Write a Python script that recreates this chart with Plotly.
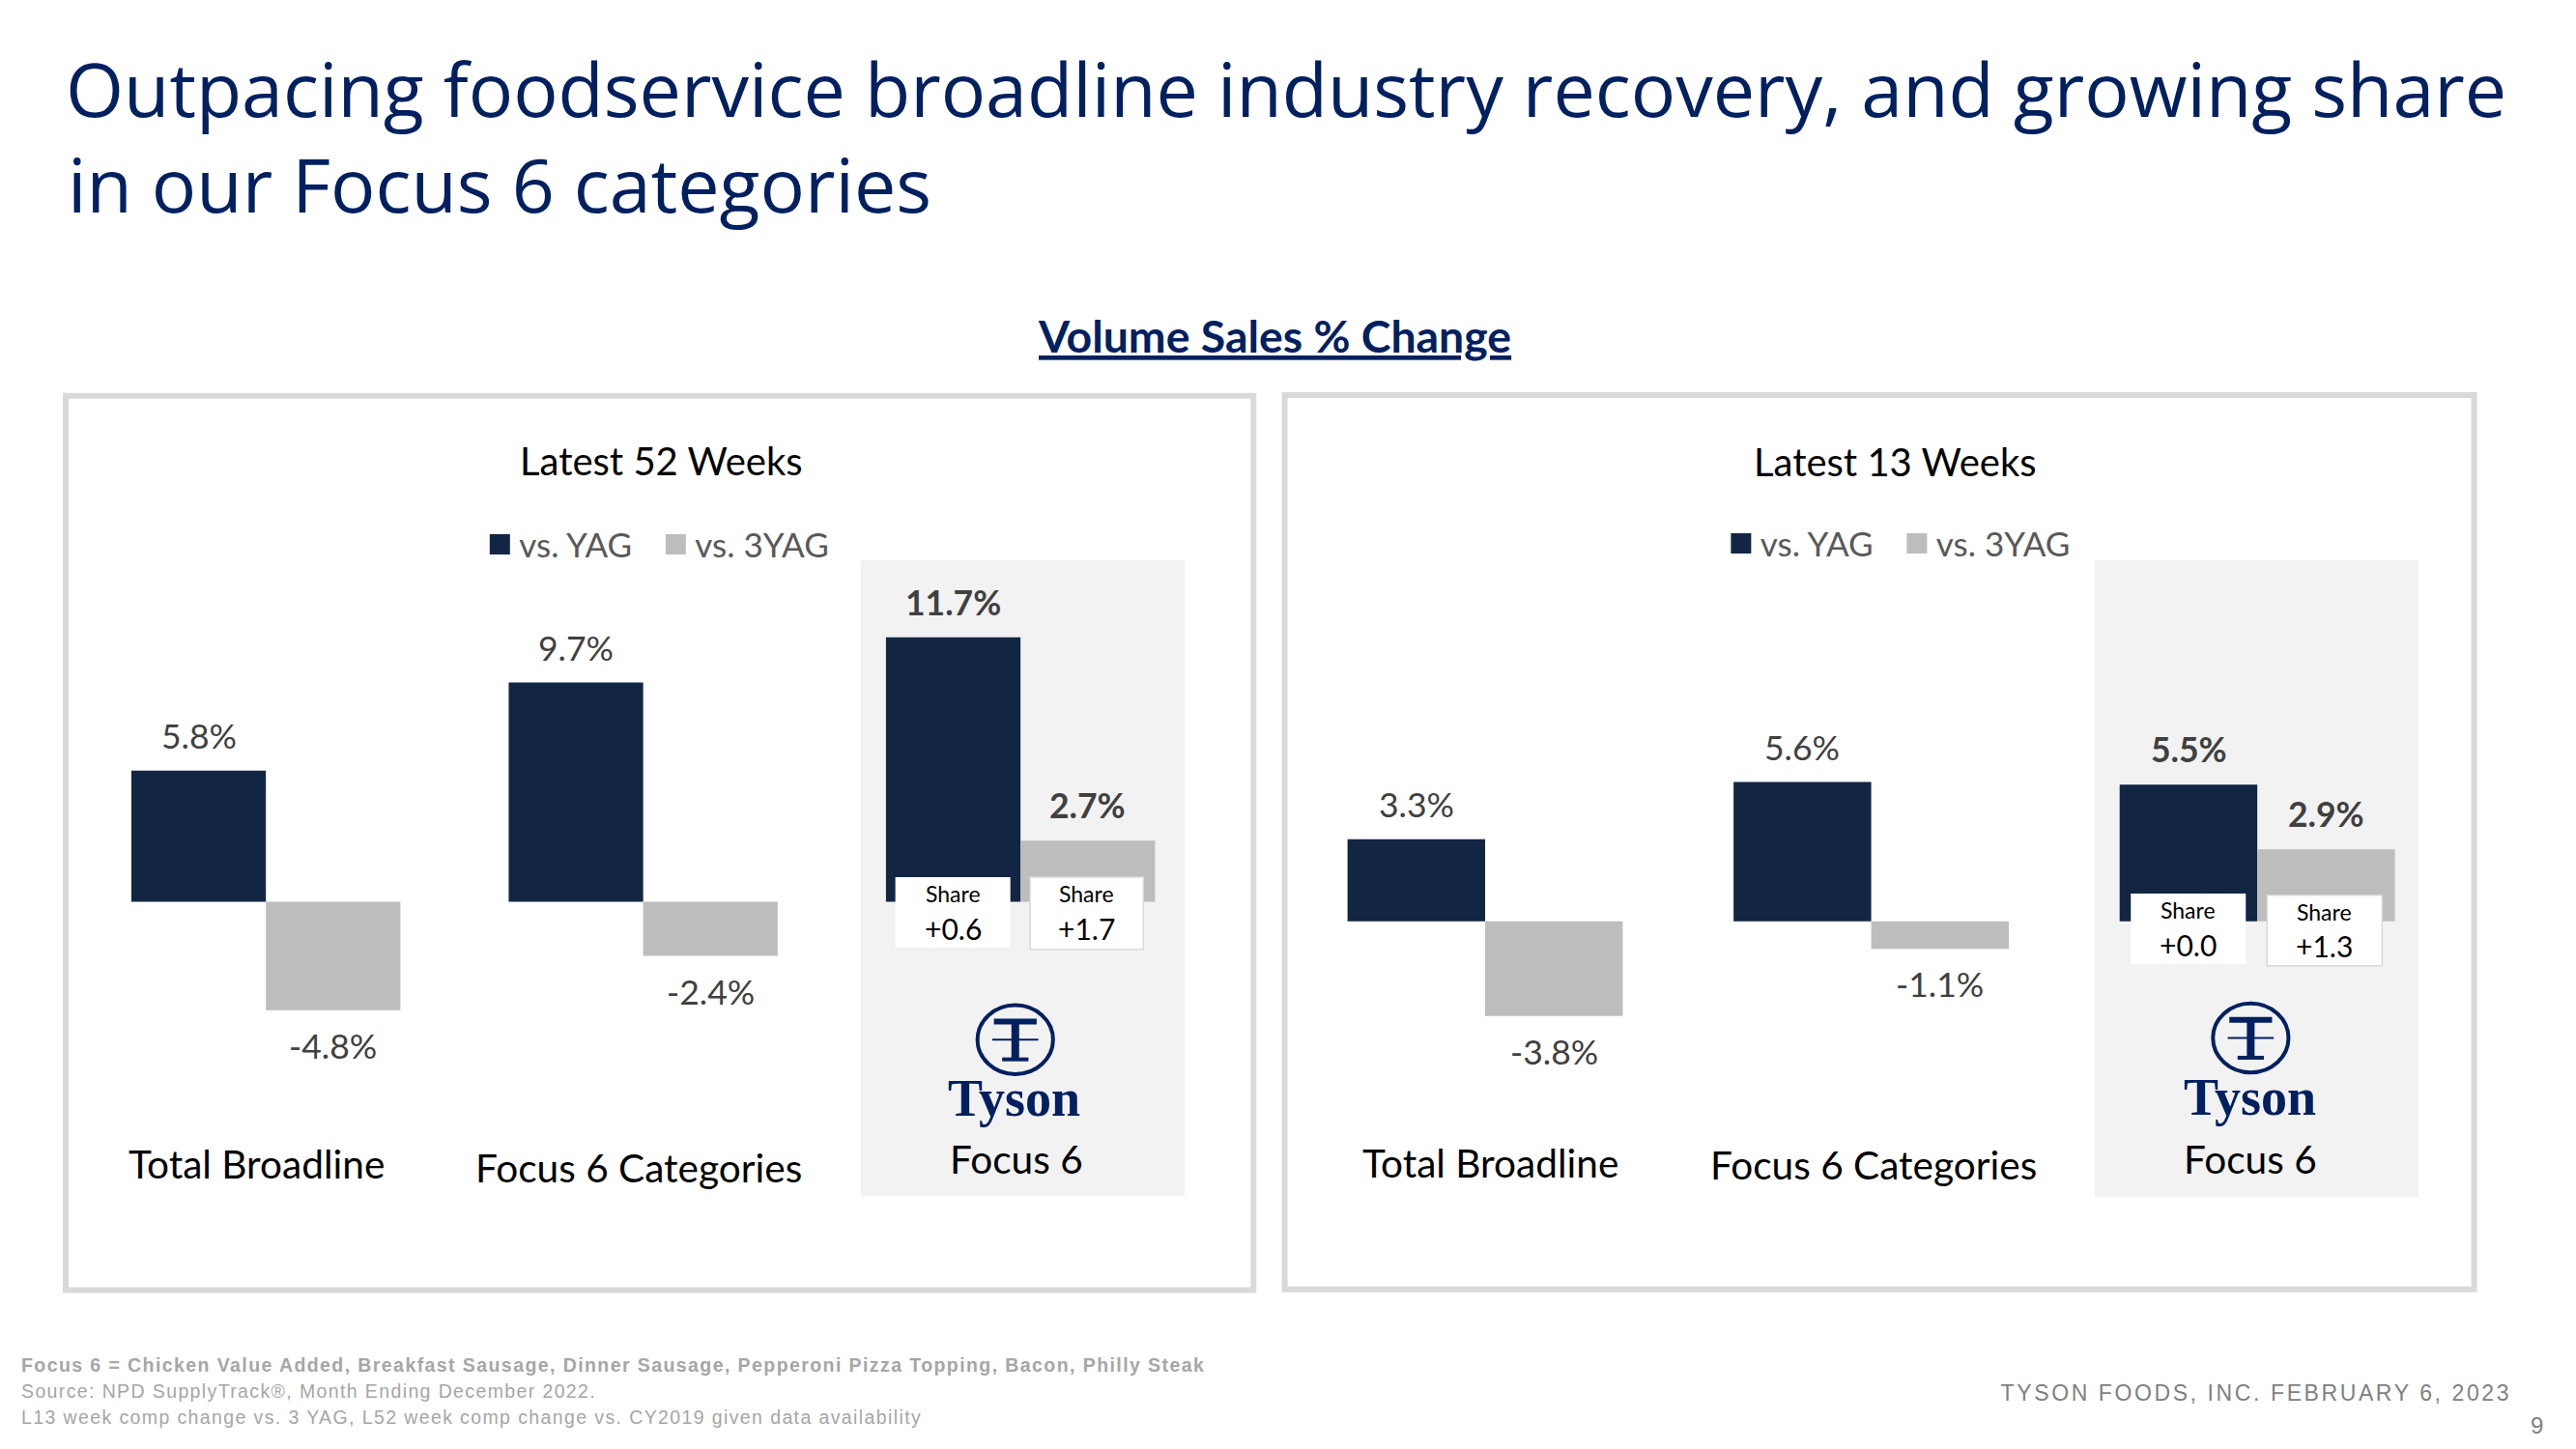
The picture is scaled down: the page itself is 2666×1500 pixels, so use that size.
import plotly.graph_objects as go

# ---------- data ----------
categories = ["Total Broadline", "Focus 6 Categories", "Focus 6"]
series_names = ["vs. YAG", "vs. 3YAG"]
l52_yag = [5.8, 9.7, 11.7]
l52_3yag = [-4.8, -2.4, 2.7]
l13_yag = [3.3, 5.6, 5.5]
l13_3yag = [-3.8, -1.1, 2.9]
l52_share = ["+0.6", "+1.7"]
l13_share = ["+0.0", "+1.3"]
panel_titles = ["Latest 52 Weeks", "Latest 13 Weeks"]
title_line1 = "Outpacing foodservice broadline industry recovery, and growing share"
title_line2 = "in our Focus 6 categories"
subtitle_text = "Volume Sales % Change"
footnotes = [
    "<b>Focus 6 = Chicken Value Added, Breakfast Sausage, Dinner Sausage, Pepperoni Pizza Topping, Bacon, Philly Steak</b>",
    "Source: NPD SupplyTrack®, Month Ending December 2022.",
    "L13 week comp change vs. 3 YAG, L52 week comp change vs. CY2019 given data availability",
]
footer_right = "TYSON FOODS, INC. FEBRUARY 6, 2023"
page_number = "9"

# ---------- style ----------
W, H = 2666, 1500
S = W / 1568
NAVY, GREY = "#122644", "#bdbdbd"
TITLE = "#002060"
BODY = "Lato"


def px(x):
    return x * S / W


def py(y):
    return 1 - y * S / H


fig = go.Figure()
shapes, ann = [], []


def rect(x0, y0, x1, y1, fill="rgba(0,0,0,0)", line=None, lw=0, layer="below"):
    shapes.append(dict(type="rect", xref="paper", yref="paper", x0=px(x0), x1=px(x1), y0=py(y1), y1=py(y0),
                       fillcolor=fill, line=dict(color=line or "rgba(0,0,0,0)", width=lw), layer=layer))


def seg(x0, y0, x1, y1, color=TITLE, lw=2):
    shapes.append(dict(type="line", xref="paper", yref="paper", x0=px(x0), x1=px(x1), y0=py(y0), y1=py(y1),
                       line=dict(color=color, width=lw), layer="above"))


def text(x, y, t, size, color="#000000", family=BODY, xanchor="center", **kw):
    ann.append(dict(xref="paper", yref="paper", x=px(x), y=py(y), text=t, showarrow=False, xanchor=xanchor,
                    yanchor="middle", align=kw.pop("align", "center"),
                    font=dict(size=size, color=color, family=family), **kw))


def logo(cx, cy):
    shapes.append(dict(type="circle", xref="paper", yref="paper", x0=px(cx - 22), x1=px(cx + 24), y0=py(cy + 21),
                       y1=py(cy - 21), line=dict(color=TITLE, width=4), fillcolor="rgba(0,0,0,0)", layer="above"))
    seg(cx - 12, cy - 11, cx + 14, cy - 11, lw=6)
    seg(cx + 1, cy - 12, cx + 1, cy + 12, lw=8)
    seg(cx - 7, cy + 12, cx + 9, cy + 12, lw=4)
    seg(cx - 13, cy, cx + 15, cy, lw=2)
    text(cx + 0.5, cy + 36, "<b>Tyson</b>", 54, color=TITLE, family="Liberation Serif")


panels = [
    dict(xaxis="x", yaxis="y", yag=l52_yag, y3=l52_3yag, dom=(47, 736), top=341, bot=728, base=549, unit=13.76, legend="legend"),
    dict(xaxis="x2", yaxis="y2", yag=l13_yag, y3=l13_3yag, dom=(786.5, 1491.5), top=341, bot=729, base=561, unit=15.15, legend="legend2"),
]
for p in panels:
    for name, vals, col in ((series_names[0], p["yag"], NAVY), (series_names[1], p["y3"], GREY)):
        fig.add_trace(go.Bar(x=categories, y=vals, name=name, marker=dict(color=col, line=dict(width=0)),
                             xaxis=p["xaxis"], yaxis=p["yaxis"], showlegend=False, hoverinfo="skip"))
        fig.add_trace(go.Scatter(x=[None], y=[None], name=name, mode="markers", xaxis=p["xaxis"], yaxis=p["yaxis"],
                                 marker=dict(symbol="square", size=16, color=col, line=dict(color=col, width=5)),
                                 legend=p["legend"], showlegend=True))

    # data labels tied to the axes
    for i in range(3):
        bold = i == 2
        for vals, off in ((p["yag"], -0.178), (p["y3"], 0.178)):
            v = vals[i]
            lab = f"{v:.1f}%"
            ann.append(dict(xref=p["xaxis"], yref=p["yaxis"], x=i + off, y=v, showarrow=False,
                            text=f"<b>{lab}</b>" if bold else lab, xanchor="center",
                            yanchor="bottom" if v > 0 else "top", yshift=13 if v > 0 else -13,
                            font=dict(size=35.5, family=BODY, color="#404040")))

layout_axes = {}
for k, p in zip(("", "2"), panels):
    y_hi = (p["base"] - p["top"]) / p["unit"]
    y_lo = (p["base"] - p["bot"]) / p["unit"]
    layout_axes["xaxis" + k] = dict(domain=[px(p["dom"][0]), px(p["dom"][1])], visible=False, range=[-0.5, 2.5],
                                    type="category", categoryorder="array", categoryarray=categories, fixedrange=True)
    layout_axes["yaxis" + k] = dict(domain=[py(p["bot"]), py(p["top"])], visible=False, range=[y_lo, y_hi], fixedrange=True)

# panels
rect(40, 241, 763, 785.5, fill="white", line="#d9d9d9", lw=6)
rect(782, 240.5, 1506, 785, fill="white", line="#d9d9d9", lw=6)
rect(524, 341, 721, 728, fill="#f2f2f2")
rect(1275, 341, 1472, 729, fill="#f2f2f2")

# panel titles
text(402.5, 280.5, panel_titles[0], 40)
text(1153.5, 281, panel_titles[1], 40)
text(775.5, 204, f"<b><u>{subtitle_text}</u></b>", 46.4, color=TITLE)

# category labels
for x, y, c in ((156, 708.5, categories[0]), (388.5, 710.5, categories[1]), (618.5, 705.5, categories[2]),
                (907.5, 708, categories[0]), (1140.5, 709, categories[1]), (1370, 705.5, categories[2])):
    text(x, y, c, 40.6)

# share boxes
boxes = [
    (545, 534, 615, 577, 580, l52_share[0], None),
    (627, 534, 696, 578, 661.5, l52_share[1], "#d9d9d9"),
    (1297, 544, 1367, 587, 1332, l13_share[0], None),
    (1380, 545, 1450, 588, 1415, l13_share[1], "#d9d9d9"),
]
for x0, y0, x1, y1, cx, val, ln in boxes:
    rect(x0, y0, x1, y1, fill="white", line=ln, lw=1.5 if ln else 0, layer="above")
    text(cx, y0 + 10, "Share", 23)
    text(cx, y0 + 31, val, 30)

logo(617, 633)
logo(1369, 632)

# second line of the slide title
text(40, 112, title_line2, 77.2, color=TITLE, family="Open Sans", xanchor="left", align="left")

# footers
LS = "Liberation Sans"
text(12, 831, footnotes[0], 19.5, color="#a6a6a6", family=LS, xanchor="left", align="left")
text(12, 847, footnotes[1], 19.5, color="#a6a6a6", family=LS, xanchor="left", align="left")
text(12, 863, footnotes[2], 19.5, color="#a6a6a6", family=LS, xanchor="left", align="left")
text(1530, 848, footer_right, 23, color="#7f7f7f", family=LS, xanchor="right", align="right")
text(1549, 868, page_number, 24, color="#7f7f7f", family=LS, xanchor="right", align="right")

legend_style = dict(orientation="h", xanchor="left", yanchor="middle", bgcolor="rgba(0,0,0,0)", traceorder="normal",
                    font=dict(size=35, color="#595959", family=BODY), entrywidth=137, entrywidthmode="pixels",
                    itemsizing="trace", itemclick=False, itemdoubleclick=False, tracegroupgap=0)

fig.update_layout(
    width=W, height=H, margin=dict(l=0, r=0, t=0, b=0), paper_bgcolor="white", plot_bgcolor="rgba(0,0,0,0)",
    barmode="group", bargap=0.287, bargroupgap=0, shapes=shapes, annotations=ann, hovermode=False,
    title=dict(text=title_line1, x=px(40), xanchor="left", xref="paper", y=py(55), yanchor="middle", yref="paper",
               font=dict(size=77.2, color=TITLE, family="Open Sans")),
    legend=dict(x=px(292.5), y=py(331.5), **legend_style),
    legend2=dict(x=px(1048), y=py(331), **legend_style),
    **layout_axes,
)

post = """
document.body.style.margin='0';
document.querySelectorAll('.annotation-text').forEach(function(t){
  var s=t.textContent;
  if(s.indexOf('Focus 6 =')===0){t.style.letterSpacing='1.42px';}
  if(s.indexOf('Source:')===0){t.style.letterSpacing='1.38px';}
  if(s.indexOf('L13 week')===0){t.style.letterSpacing='1.39px';}
  if(s.indexOf('TYSON FOODS')===0){t.style.letterSpacing='2.6px';}
});
"""
fig.write_html("out.html", config={"displayModeBar": False}, post_script=post)
